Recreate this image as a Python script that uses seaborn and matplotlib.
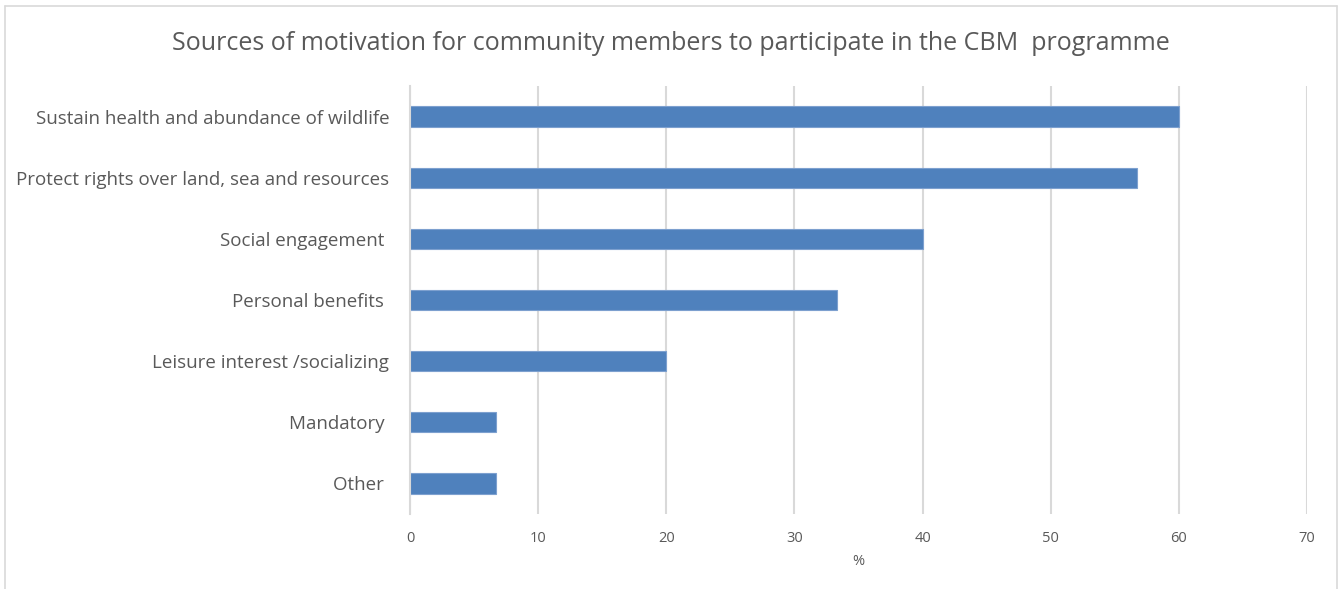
import matplotlib
matplotlib.use("Agg")
import matplotlib.pyplot as plt
from matplotlib.lines import Line2D
import seaborn as sns
import pandas as pd

categories = [
    "Sustain health and abundance of wildlife",
    "Protect rights over land, sea and resources",
    "Social engagement ",
    "Personal benefits ",
    "Leisure interest /socializing",
    "Mandatory ",
    "Other ",
]
percent = [60.0, 56.7, 40.0, 33.3, 20.0, 6.7, 6.7]
x_ticks = [0, 10, 20, 30, 40, 50, 60, 70]

df = pd.DataFrame({"category": categories, "percent": percent})

sns.set_theme(style="white")
plt.rcParams["font.family"] = ["Open Sans", "DejaVu Sans"]

text_grey = "#595959"
grid_grey = "#D9D9D9"

fig = plt.figure(figsize=(13.43, 5.89), dpi=100)
ax = fig.add_axes([410 / 1343, 1 - 514 / 589, (1307 - 410) / 1343, (514 - 86) / 589])

sns.barplot(data=df, x="percent", y="category", color="#4F81BD", saturation=1,
            width=0.33, edgecolor="#7DA0CF", linewidth=0.8, ax=ax, zorder=3)

ax.set_xlim(0, 70)
ax.set_xticks(x_ticks)
ax.set_xticklabels([str(t) for t in x_ticks])
ax.xaxis.grid(True, color=grid_grey, linewidth=1.5, zorder=0)
ax.yaxis.grid(False)
for side in ["top", "right", "bottom"]:
    ax.spines[side].set_visible(False)
ax.spines["left"].set_color(grid_grey)
ax.spines["left"].set_linewidth(1.5)
ax.spines["left"].set_zorder(4)

ax.tick_params(axis="x", length=0, pad=12, labelsize=10.5, labelcolor=text_grey)
ax.tick_params(axis="y", length=0, pad=15, labelsize=13.5, labelcolor=text_grey)
ax.set_xlabel("%", fontsize=10.5, color=text_grey, labelpad=6)
ax.set_ylabel("")

fig.suptitle("Sources of motivation for community members to participate in the CBM  programme",
             x=(170 + 1172) / 2 / 1343, y=1 - 44 / 589, va="center",
             fontsize=18, color=text_grey)

# chart area border (left, top, right)
bx0, bx1, by_top, by_bot = 5 / 1343, 1337 / 1343, 1 - 6 / 589, 0.0
for xs, ys in [([bx0, bx0], [by_bot, by_top]), ([bx0, bx1], [by_top, by_top]),
               ([bx1, bx1], [by_top, by_bot])]:
    fig.add_artist(Line2D(xs, ys, transform=fig.transFigure, color=grid_grey, linewidth=1.2))

fig.savefig("out.png", dpi=100, facecolor="white")
